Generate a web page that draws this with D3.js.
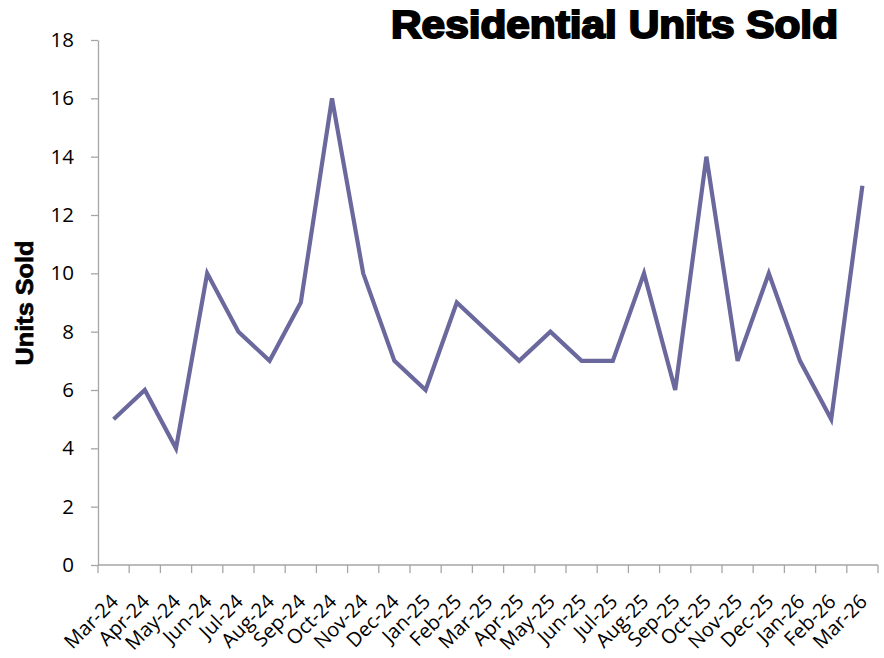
<!DOCTYPE html>
<html>
<head>
<meta charset="utf-8">
<script src="https://cdn.jsdelivr.net/npm/d3@7"></script>
<style>
  body { margin: 0; background: #fff; }
  svg { display: block; }
  .axis text { font-family: "Open Sans", sans-serif; fill: #000; }
  .axis path, .axis line { stroke: #a6a6a6; stroke-width: 1.3; }
</style>
</head>
<body>
<svg id="chart"></svg>
<script>
// Months on the category axis
const months = [
  'Mar-24', 'Apr-24', 'May-24', 'Jun-24', 'Jul-24', 'Aug-24', 'Sep-24', 'Oct-24',
  'Nov-24', 'Dec-24', 'Jan-25', 'Feb-25', 'Mar-25', 'Apr-25', 'May-25', 'Jun-25',
  'Jul-25', 'Aug-25', 'Sep-25', 'Oct-25', 'Nov-25', 'Dec-25', 'Jan-26', 'Feb-26', 'Mar-26'
];
// Units sold each month
const unitsSold = [5, 6, 4, 10, 8, 7, 9, 16, 10, 7, 6, 9, 8, 7, 8, 7, 7, 10, 6, 14, 7, 10, 7, 5, 13];
const yTicks = [0, 2, 4, 6, 8, 10, 12, 14, 16, 18];

const width = 884, height = 658;
const margin = { top: 40, right: 6, bottom: 93, left: 98 };

const svg = d3.select('#chart').attr('width', width).attr('height', height);

const x = d3.scaleBand()
  .domain(months)
  .range([margin.left, width - margin.right]);

const y = d3.scaleLinear()
  .domain([0, 18])
  .range([height - margin.bottom, margin.top]);

// Y axis
const yAxis = svg.append('g')
  .attr('class', 'axis')
  .attr('transform', `translate(${margin.left},0)`)
  .call(d3.axisLeft(y).tickValues(yTicks).tickSize(7).tickPadding(17).tickSizeOuter(0));
yAxis.selectAll('text').style('font-size', '20.5px');

// X axis with ticks between categories
const xAxis = svg.append('g')
  .attr('class', 'axis')
  .attr('transform', `translate(0,${height - margin.bottom})`)
  .call(d3.axisBottom(x).tickSize(0).tickSizeOuter(0));
xAxis.select('.domain').remove();
xAxis.append('line')
  .attr('x1', margin.left).attr('x2', width - margin.right)
  .attr('stroke', '#a6a6a6').attr('stroke-width', 1.3);
const bounds = months.map(m => x(m)).concat([x(months[months.length - 1]) + x.bandwidth()]);
xAxis.selectAll('.sep').data(bounds).enter().append('line')
  .attr('class', 'sep')
  .attr('x1', d => d).attr('x2', d => d)
  .attr('y1', 0).attr('y2', 8)
  .attr('stroke', '#a6a6a6').attr('stroke-width', 1.3);
xAxis.selectAll('.tick text')
  .style('font-size', '20px')
  .attr('text-anchor', 'end')
  .attr('x', 0).attr('y', 0)
  .attr('dy', '0.35em')
  .attr('transform', 'translate(1,33) rotate(-45)');

// Line
const line = d3.line()
  .x((d, i) => x(months[i]) + x.bandwidth() / 2)
  .y(d => y(d));

svg.append('path')
  .datum(unitsSold)
  .attr('d', line)
  .attr('fill', 'none')
  .attr('stroke', '#6a689d')
  .attr('stroke-width', 4.2)
  .attr('stroke-linejoin', 'miter');

// Title
svg.append('text')
  .attr('x', 391).attr('y', 38)
  .attr('textLength', 447)
  .attr('lengthAdjust', 'spacingAndGlyphs')
  .style('font-family', '"Liberation Sans", Arial, sans-serif')
  .style('font-weight', 'bold')
  .style('font-size', '38px')
  .style('stroke', '#000')
  .style('stroke-width', 2)
  .text('Residential Units Sold');

// Y axis title
svg.append('text')
  .attr('transform', 'translate(33,303) rotate(-90)')
  .attr('text-anchor', 'middle')
  .attr('textLength', 125)
  .attr('lengthAdjust', 'spacingAndGlyphs')
  .style('font-family', '"Liberation Sans", Arial, sans-serif')
  .style('font-weight', 'bold')
  .style('font-size', '24px')
  .style('stroke', '#000')
  .style('stroke-width', 0.7)
  .text('Units Sold');
</script>
</body>
</html>
